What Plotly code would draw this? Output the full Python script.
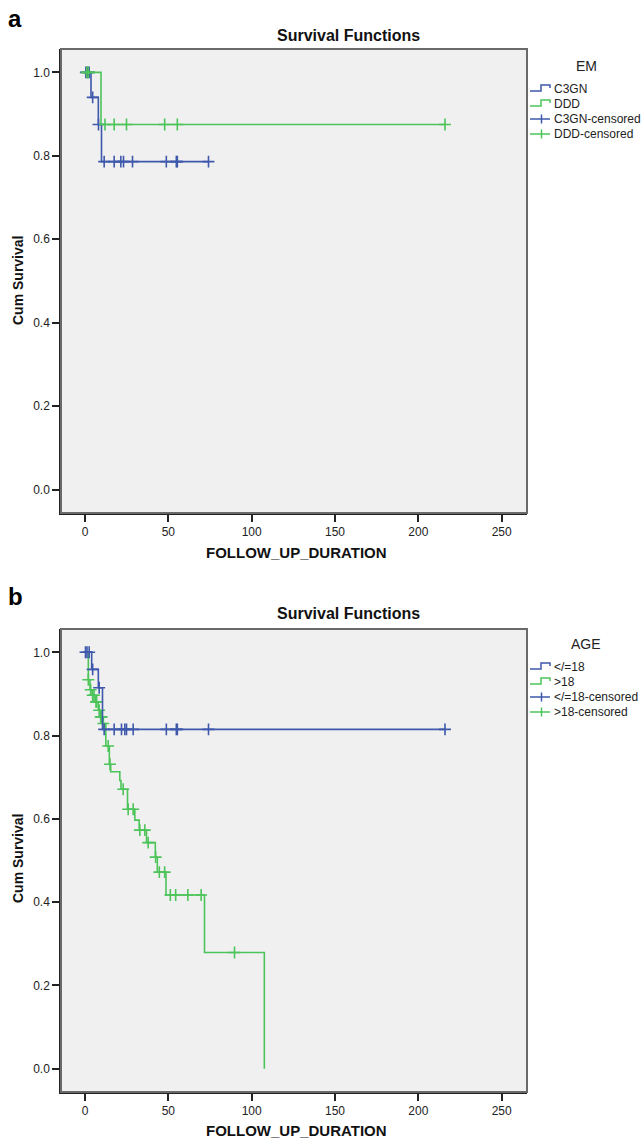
import plotly.graph_objects as go

# ---------------- Data ----------------
# Panel a: EM groups
a_c3gn_event_t = [3.6, 8.0, 9.9]
a_c3gn_event_s = [0.94, 0.875, 0.786]
a_c3gn_cens_t = [0.5, 1.5, 2.5, 4.6, 8.1, 11.5, 17.5, 21.5, 23.1, 28.5, 48.8, 54.8, 55.4, 74.1]
a_ddd_event_t = [9.6]
a_ddd_event_s = [0.875]
a_ddd_cens_t = [1.0, 2.0, 12.0, 17.5, 24.9, 47.8, 55.4, 216.0]

# Panel b: AGE groups
b_le18_event_t = [4.0, 8.0, 10.5]
b_le18_event_s = [0.959, 0.915, 0.815]
b_le18_cens_t = [0.3, 1.2, 2.5, 4.6, 8.5, 11.5, 17.5, 21.9, 23.9, 24.9, 28.9, 48.8, 54.8, 55.4, 74.1, 216.0]
b_gt18_event_t = [2.0, 3.0, 4.3, 6.2, 8.0, 9.0, 10.5, 12.5, 14.6, 15.4, 20.9, 21.6, 25.5,
                  29.9, 32.5, 36.9, 42.2, 43.4, 48.6, 71.7, 107.6]
b_gt18_event_s = [0.934, 0.910, 0.897, 0.881, 0.861, 0.845, 0.829, 0.775, 0.731, 0.713, 0.692, 0.671, 0.623,
                  0.597, 0.573, 0.543, 0.508, 0.472, 0.417, 0.279, 0.0]
b_gt18_cens_t = [2.0, 3.4, 4.6, 5.4, 6.6, 7.0, 8.5, 9.4, 10.0, 11.0, 13.9, 15.0, 22.9, 25.9, 28.9,
                 32.9, 35.9, 37.9, 42.4, 44.6, 47.8, 51.2, 54.4, 61.7, 69.7, 89.7]

x_ticks = [0, 50, 100, 150, 200, 250]
y_ticks = [0.0, 0.2, 0.4, 0.6, 0.8, 1.0]

legend_a_title = "EM"
legend_a_labels = ["C3GN", "DDD", "C3GN-censored", "DDD-censored"]
legend_b_title = "AGE"
legend_b_labels = ["</=18", ">18", "</=18-censored", ">18-censored"]

BLUE = "#3e58ac"
GREEN = "#4cc45a"
W, H = 644, 1142
FONT = "Liberation Sans, Arial, sans-serif"


def km_line(ev_t, ev_s, cens_t):
    xs = [0.0] + list(ev_t)
    ys = [1.0] + list(ev_s)
    end = max(cens_t) if cens_t else 0
    if end > ev_t[-1]:
        xs.append(end)
        ys.append(ev_s[-1])
    return xs, ys


def surv_at(t, ev_t, ev_s):
    s = 1.0
    for et, es in zip(ev_t, ev_s):
        if et <= t:
            s = es
    return s


def px(x):
    return x / W


def py(y):
    return 1 - y / H


fig = go.Figure()

groups = [
    ("x", "y", a_c3gn_event_t, a_c3gn_event_s, a_c3gn_cens_t, BLUE),
    ("x", "y", a_ddd_event_t, a_ddd_event_s, a_ddd_cens_t, GREEN),
    ("x2", "y2", b_gt18_event_t, b_gt18_event_s, b_gt18_cens_t, GREEN),
    ("x2", "y2", b_le18_event_t, b_le18_event_s, b_le18_cens_t, BLUE),
]
for xa, ya, et, es, ct, col in groups:
    lx, ly = km_line(et, es, ct)
    fig.add_trace(go.Scatter(x=lx, y=ly, mode="lines", line=dict(color=col, width=1.6, shape="hv"),
                             xaxis=xa, yaxis=ya, showlegend=False, hoverinfo="skip"))
    fig.add_trace(go.Scatter(x=ct, y=[surv_at(t, et, es) for t in ct], mode="markers",
                             marker=dict(symbol="cross-thin", size=8.5, line=dict(color=col, width=1.6)),
                             xaxis=xa, yaxis=ya, showlegend=False, hoverinfo="skip"))

xdom = [px(61), px(527)]
dom_a = [py(513), py(49)]
dom_b = [py(1092), py(629)]

axis_common = dict(showgrid=False, zeroline=False, showline=True, linecolor="#222", linewidth=1.5,
                   ticks="outside", ticklen=7, tickwidth=1.5, tickcolor="#222",
                   tickfont=dict(family=FONT, size=12, color="#222"))
xr = [-14.4, 265.2]
yr = [-0.056, 1.056]
fig.update_layout(
    width=W, height=H, margin=dict(l=0, r=0, t=0, b=0),
    paper_bgcolor="white", plot_bgcolor="#f0f0f0",
    xaxis=dict(domain=xdom, range=xr, tickvals=x_ticks, anchor="y", **axis_common),
    yaxis=dict(domain=dom_a, range=yr, tickvals=y_ticks, tickformat=".1f", anchor="x", **axis_common),
    xaxis2=dict(domain=xdom, range=xr, tickvals=x_ticks, anchor="y2", **axis_common),
    yaxis2=dict(domain=dom_b, range=yr, tickvals=y_ticks, tickformat=".1f", anchor="x2", **axis_common),
    showlegend=False,
)

shapes = []
annotations = []
# frames (top/right gray edges)
for xr_, yr_ in (("x domain", "y domain"), ("x2 domain", "y2 domain")):
    shapes.append(dict(type="rect", xref=xr_, yref=yr_, x0=0, x1=1, y0=0, y1=1,
                       line=dict(color="#6a6a6a", width=2), fillcolor="rgba(0,0,0,0)", layer="above"))

def ann(text, x, y, size, bold=False, xanchor="center", textangle=0, color="#111"):
    annotations.append(dict(text=("<b>%s</b>" % text) if bold else text, x=px(x), y=py(y),
                            xref="paper", yref="paper", showarrow=False, xanchor=xanchor,
                            yanchor="middle", textangle=textangle,
                            font=dict(family=FONT, size=size, color=color)))

for off, letter, ltitle, labels in ((0, "a", legend_a_title, legend_a_labels),
                                    (578, "b", legend_b_title, legend_b_labels)):
    ann(letter, 6, 18 + off, 24, bold=True, xanchor="left", color="#000")
    ann("Survival Functions", 348, 35 + off, 16, bold=True)
    ann("Cum Survival", 18, 281 + off, 14, bold=True, textangle=-90)
    ann("FOLLOW_UP_DURATION", 296, 552 + off, 15, bold=True)
    ann(ltitle, 586, 66 + off, 14, xanchor="center", color="#222")
    ys = [88.5, 103.5, 119, 134]
    cols = [BLUE, GREEN, BLUE, GREEN]
    for i, (lab, yy, col) in enumerate(zip(labels, ys, cols)):
        yy = yy + off
        ann(lab, 552, yy, 12, xanchor="left", color="#222")
        if i < 2:
            path = "M %f,%f L %f,%f L %f,%f L %f,%f L %f,%f" % (
                px(530), py(yy + 2.5), px(541), py(yy + 2.5), px(541), py(yy - 3.5),
                px(550), py(yy - 3.5), px(550), py(yy - 0.5))
            shapes.append(dict(type="path", xref="paper", yref="paper", path=path,
                               line=dict(color=col, width=1.5)))
        else:
            shapes.append(dict(type="line", xref="paper", yref="paper", x0=px(530), x1=px(550),
                               y0=py(yy), y1=py(yy), line=dict(color=col, width=1.5)))
            shapes.append(dict(type="line", xref="paper", yref="paper", x0=px(541.5), x1=px(541.5),
                               y0=py(yy - 4.5), y1=py(yy + 4.5), line=dict(color=col, width=1.5)))

fig.update_layout(shapes=shapes, annotations=annotations)
fig.write_html("out.html", config={"displayModeBar": False},
               post_script="document.body.style.margin='0';document.body.style.overflow='hidden';")
